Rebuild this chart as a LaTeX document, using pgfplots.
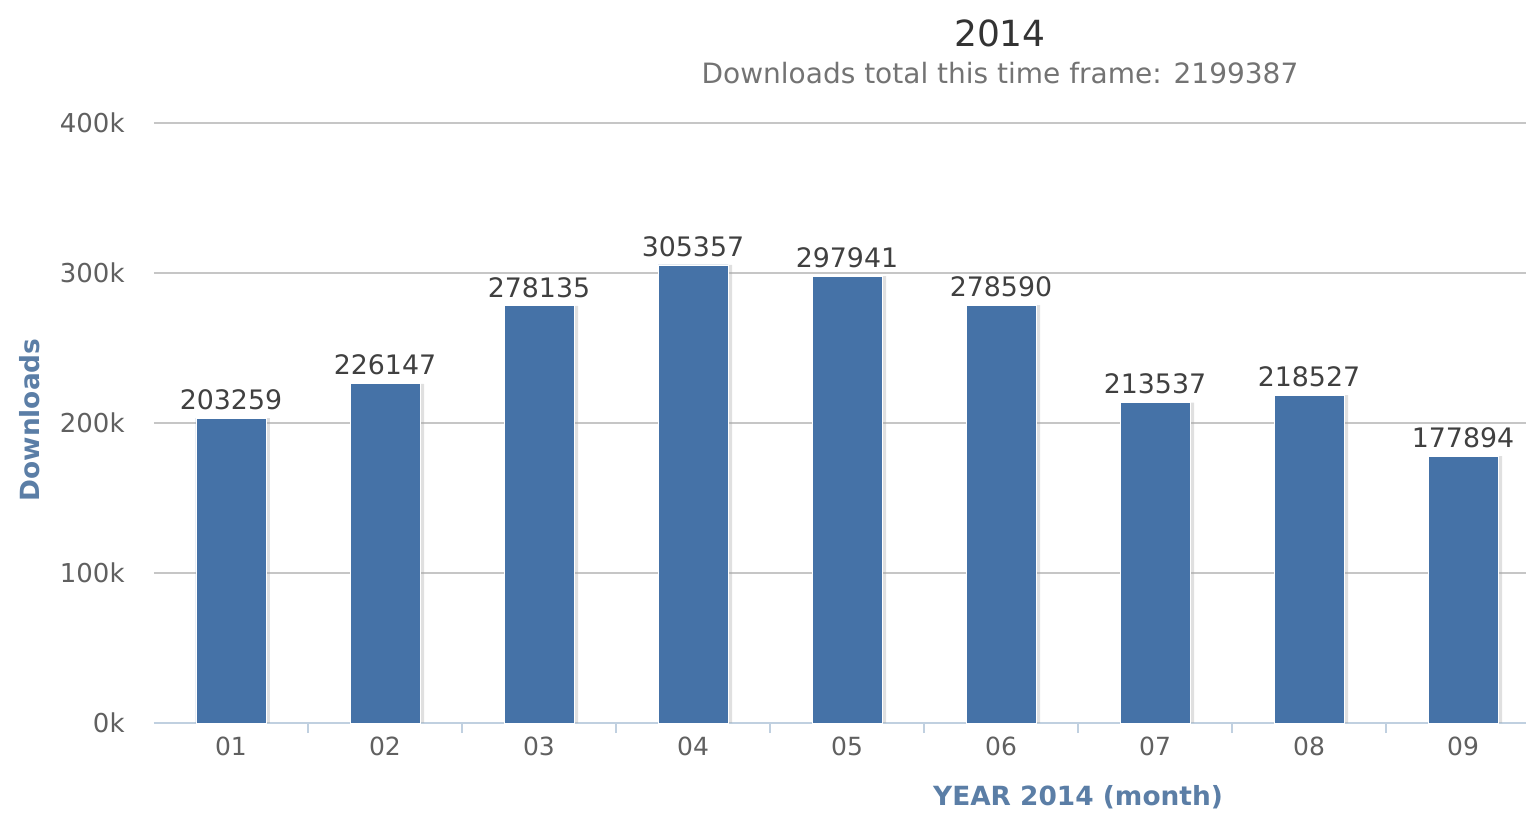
\documentclass[border=0pt]{standalone}
\usepackage{fontspec}
\setmainfont{DejaVu Sans}
\usepackage{pgfplots}
\pgfplotsset{compat=1.18}
\definecolor{barblue}{HTML}{4572A7}
\definecolor{gridgray}{HTML}{C6C6C6}
\definecolor{axisline}{HTML}{C0D0E0}
\definecolor{axistitle}{HTML}{5B7EA6}
\definecolor{ticktext}{HTML}{606060}
\definecolor{labeltext}{HTML}{404040}

\begin{document}
\begin{tikzpicture}
	\begin{axis}[
		scale only axis,
		width=686pt, height=300pt,
		% X
		xmin=-0.5, xmax=8.409,
		axis x line*=bottom,
		x axis line style={axisline, line width=0.9pt},
		xtick={0.5,1.5,...,7.5},
		xticklabels={},
		major tick length=5pt,
		tick align=outside,
		xtick style={axisline, line width=0.8pt},
		extra x ticks={0,1,...,8},
		extra x tick labels={01,02,03,04,05,06,07,08,09},
		extra x tick style={major tick length=0pt,
			xticklabel style={anchor=north, inner sep=0pt, yshift=-7pt,
				text=ticktext, font=\fontsize{12.5}{14}\selectfont}},
		xlabel={\textbf{YEAR 2014 (month)}},
		xlabel style={at={(axis description cs:0.6735,-0.123)}, anchor=center,
			text=axistitle, font=\fontsize{13.2}{15}\selectfont},
		% Y
		ymin=0, ymax=400000,
		scaled y ticks=false,
		axis y line*=left,
		y axis line style={draw=none},
		ytick={0,100000,200000,300000,400000},
		yticklabels={0k,100k,200k,300k,400k},
		ytick style={draw=none},
		yticklabel style={anchor=east, inner sep=0pt, xshift=-9.5pt,
			text=ticktext, font=\fontsize{13}{15}\selectfont},
		ymajorgrids,
		grid style={gridgray, line width=0.9pt},
		ylabel={\textbf{Downloads}},
		ylabel style={at={(axis description cs:-0.0904,0.505)}, anchor=center,
			rotate=0, text=axistitle, font=\fontsize{13.2}{15}\selectfont},
		ybar,
		bar width=35pt,
		clip=false,
		]
		% shadow
		\addplot [fill=black!35, opacity=0.35, draw=none, bar shift=2pt]
		table [x=x, y=y] {%
			x y
			0 203259
			1 226147
			2 278135
			3 305357
			4 297941
			5 278590
			6 213537
			7 218527
			8 177894
		};
		\addplot [fill=barblue, draw=white, line width=0.4pt, bar shift=0pt,
			point meta=explicit symbolic,
			nodes near coords,
			nodes near coords style={anchor=south, inner sep=0pt, yshift=4pt,
				text=labeltext, font=\fontsize{13.4}{15}\selectfont}]
		table [x=x, y=y, meta=y] {%
			x y
			0 203259
			1 226147
			2 278135
			3 305357
			4 297941
			5 278590
			6 213537
			7 218527
			8 177894
		};
		\node [anchor=center, text=black!80, font=\fontsize{18}{20}\selectfont]
			at (axis description cs:0.6166,1.15) {2014};
		\node [anchor=center, text=black!55, font=\fontsize{14}{16}\selectfont]
			at (axis description cs:0.6166,1.0833)
			{Downloads total this time frame: 2199387};
	\end{axis}
	\pgfresetboundingbox
	\path [use as bounding box] (-77pt,-45.5pt) rectangle (686pt,361.5pt);
\end{tikzpicture}
\end{document}
